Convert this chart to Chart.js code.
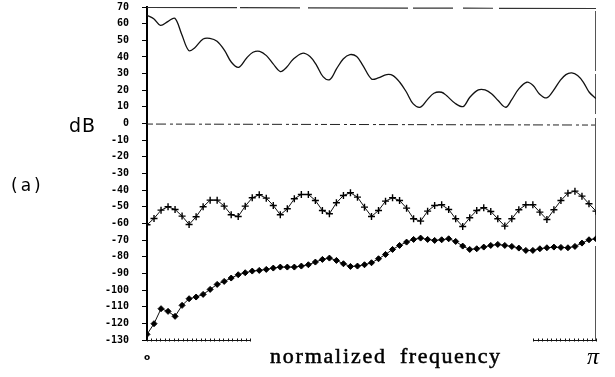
<!DOCTYPE html>
<html>
<head>
<meta charset="utf-8">
<script src="https://cdn.jsdelivr.net/npm/chart.js@4/dist/chart.umd.min.js"></script>
<style>
html, body { margin: 0; padding: 0; background: #fff; }
canvas { display: block; }
</style>
</head>
<body>
<canvas id="chart" width="615" height="377"></canvas>
<script>
// normalized frequency bins (0 .. pi), 65 samples for the marked curves
var binCount = 65;
var bins = [];
for (var i = 0; i < binCount; i++) bins.push(i / (binCount - 1));

var plusDb = [
    -60.8, -57, -52, -50, -51.6, -55.6, -60.6, -56, -50, -46,
    -46, -49.6, -54.8, -55.8, -49.6, -44.6, -42.8, -44.8, -49.2, -54.8,
    -51.2, -45.2, -42.6, -42.6, -46.2, -52.2, -54.2, -47.6, -43.2, -41.6,
    -44.2, -50.2, -55.8, -52.2, -46.6, -44.6, -46.2, -50.8, -57.2, -58.6,
    -52.6, -49.2, -48.8, -51.6, -57.2, -61.8, -56.6, -52.2, -50.6, -52.8,
    -57.2, -61.6, -57.2, -51.8, -48.8, -48.8, -53.2, -57.6, -51.8, -46.2,
    -41.8, -40.6, -43.6, -48.2, -52.6
];

var diamondDb = [
    -126.6, -120.2, -111.2, -112.8, -115.8, -109.2, -105.2, -104.2, -102.6, -99.6,
    -96.6, -94.8, -92.8, -90.8, -89.6, -88.6, -88.2, -87.6, -86.8, -86.2,
    -86.2, -86.2, -85.6, -84.8, -83.2, -81.6, -80.8, -82.2, -84.2, -85.8,
    -85.6, -84.8, -83.6, -81.2, -78.6, -75.6, -73.2, -71.2, -69.6, -68.8,
    -69.6, -70.2, -69.8, -69.2, -70.8, -73.6, -75.6, -75.2, -74.2, -73.2,
    -72.6, -73.2, -73.8, -74.8, -76.2, -76.2, -75.2, -74.6, -74.2, -74.4,
    -74.6, -73.8, -71.8, -69.8, -69.2
];

// upper (unmarked) curve, read at its own frequencies
var topFreq = [
    0, 0.015, 0.030, 0.047, 0.062, 0.077, 0.093, 0.106, 0.125, 0.140,
    0.156, 0.173, 0.188, 0.204, 0.222, 0.236, 0.251, 0.266, 0.281, 0.297,
    0.311, 0.325, 0.346, 0.363, 0.378, 0.392, 0.407, 0.422, 0.437, 0.452,
    0.467, 0.481, 0.500, 0.515, 0.534, 0.548, 0.563, 0.578, 0.593, 0.609,
    0.624, 0.639, 0.656, 0.667, 0.686, 0.704, 0.719, 0.738, 0.753, 0.768,
    0.782, 0.799, 0.812, 0.828, 0.846, 0.860, 0.874, 0.890, 0.905, 0.920,
    0.933, 0.946, 0.959, 0.972, 0.985, 1.0
];
var topDb = [
    65, 63, 59, 61.4, 63.2, 53.8, 43.8, 45.4, 50.8, 51.2,
    49.4, 43.8, 36.8, 33.8, 39.4, 42.8, 43.4, 40.8, 35.8, 31.2,
    33.8, 38.5, 42.2, 40.2, 34.8, 28.2, 26.4, 32.8, 38.8, 41.4,
    40.2, 34.8, 26.8, 27.4, 29.4, 28.8, 24.8, 18.8, 11.8, 9.8,
    14.2, 18.2, 18.8, 16.8, 12.2, 10.2, 15.8, 20.2, 20.2, 17.8,
    13.8, 9.8, 14.2, 20.8, 24.8, 22.8, 17.8, 15.4, 19.8, 25.8,
    29.4, 30.4, 28.8, 24.8, 18.8, 15
];

var yMin = -130, yMax = 70, yStep = 10;

function pairs(xs, ys) {
    return xs.map(function (x, k) { return { x: x, y: ys[k] }; });
}

var framePlugin = {
    id: 'frame',
    beforeDraw: function (chart) {
        var c = chart.ctx;
        c.save();
        c.fillStyle = '#fff';
        c.fillRect(0, 0, chart.width, chart.height);
        c.restore();
    },
    beforeDatasetsDraw: function (chart) {
        var c = chart.ctx;
        var xs = chart.scales.x, ys = chart.scales.y;
        var x0 = xs.getPixelForValue(0), x1 = xs.getPixelForValue(1);
        var yTop = ys.getPixelForValue(yMax), yZero = ys.getPixelForValue(0), yBot = ys.getPixelForValue(yMin);
        c.save();
        // top border
        c.strokeStyle = '#333';
        c.lineWidth = 1.2;
        c.setLineDash([90, 3, 60, 8, 100, 5, 40, 10, 30, 6, 200]);
        c.beginPath(); c.moveTo(x0, yTop + 0.5); c.lineTo(x1, yTop + 1.5); c.stroke();
        // zero line
        c.strokeStyle = '#222';
        c.lineWidth = 1;
        c.setLineDash([6, 3, 10, 4, 3, 3]);
        c.beginPath(); c.moveTo(x0, yZero + 0.5); c.lineTo(x1, yZero + 1.5); c.stroke();
        // right border
        c.strokeStyle = '#555';
        c.setLineDash([60, 3, 40, 4, 90, 3, 30, 5, 200]);
        c.beginPath(); c.moveTo(x1 - 0.5, yTop + 4); c.lineTo(x1 - 0.5, yBot); c.stroke();
        c.setLineDash([]);
        // partial bottom axis with fine ticks
        c.strokeStyle = '#111';
        c.lineWidth = 1;
        var segs = [[0, 0.23], [0.86, 1.0]];
        segs.forEach(function (s) {
            c.beginPath();
            c.moveTo(xs.getPixelForValue(s[0]), yBot + 0.5);
            c.lineTo(xs.getPixelForValue(s[1]), yBot + 0.5);
            c.stroke();
            for (var v = s[0]; v <= s[1] + 1e-6; v += 0.01) {
                var px = Math.round(xs.getPixelForValue(v)) + 0.5;
                c.beginPath(); c.moveTo(px, yBot - 1.5); c.lineTo(px, yBot + 1.5); c.stroke();
            }
        });
        c.restore();
    },
    afterDraw: function (chart) {
        var c = chart.ctx;
        var xs = chart.scales.x;
        c.save();
        c.fillStyle = '#000';
        c.textBaseline = 'alphabetic';
        c.textAlign = 'left';
        c.font = '19px "DejaVu Sans"';
        c.letterSpacing = '1px';
        c.fillText('dB', 69, 132);
        c.font = '17px "DejaVu Sans"';
        c.letterSpacing = '3px';
        c.fillText('(a)', 11, 191);

        c.font = '22px "Liberation Serif"';
        c.strokeStyle = '#000';
        c.lineWidth = 0.5;
        function spaced(text, x, y, width) {
            c.letterSpacing = '0px';
            var w = c.measureText(text).width;
            c.letterSpacing = ((width - w) / (text.length - 1)) + 'px';
            c.fillText(text, x, y);
            c.strokeText(text, x, y);
        }
        spaced('normalized', 270, 363, 115);
        spaced('frequency', 400, 363, 100);

        c.letterSpacing = '0px';
        c.textAlign = 'center';
        c.font = 'bold 9px "DejaVu Sans"';
        c.fillText('o', xs.getPixelForValue(0), 360);
        c.font = 'italic 24px "Liberation Serif"';
        c.fillText('\u03c0', xs.getPixelForValue(1) - 3, 364);
        c.restore();
    }
};

var chart = new Chart(document.getElementById('chart'), {
    type: 'line',
    data: {
        datasets: [
            {
                label: 'upper',
                data: pairs(topFreq, topDb),
                borderColor: '#111',
                borderWidth: 1.3,
                pointRadius: 0,
                tension: 0.35,
                fill: false
            },
            {
                label: 'plus',
                data: pairs(bins, plusDb),
                borderColor: '#111',
                borderWidth: 1,
                pointStyle: 'cross',
                pointRadius: 3.5,
                pointBorderWidth: 1.4,
                pointBorderColor: '#000',
                tension: 0,
                fill: false
            },
            {
                label: 'diamond',
                data: pairs(bins, diamondDb),
                borderColor: '#111',
                borderWidth: 1,
                pointStyle: 'rectRot',
                pointRadius: 3,
                pointBackgroundColor: '#000',
                pointBorderColor: '#000',
                pointBorderWidth: 1,
                tension: 0,
                fill: false
            }
        ]
    },
    options: {
        responsive: false,
        animation: false,
        layout: { autoPadding: false, padding: { left: 0, right: 19, top: 7, bottom: 37 } },
        plugins: { legend: { display: false }, tooltip: { enabled: false } },
        scales: {
            x: {
                type: 'linear',
                min: 0,
                max: 1,
                display: false
            },
            y: {
                min: yMin,
                max: yMax,
                afterFit: function (scale) {
                    scale.width = 147;
                    scale.paddingTop = 0;
                    scale.paddingBottom = 0;
                },
                border: { display: true, color: '#000', width: 2 },
                grid: { drawOnChartArea: false, drawTicks: true, tickLength: 5, tickColor: '#000', tickWidth: 1 },
                ticks: {
                    stepSize: yStep,
                    autoSkip: false,
                    padding: 13,
                    color: '#000',
                    font: { family: 'DejaVu Sans Mono', size: 10, weight: 'bold' }
                }
            }
        }
    },
    plugins: [framePlugin]
});
</script>
</body>
</html>
